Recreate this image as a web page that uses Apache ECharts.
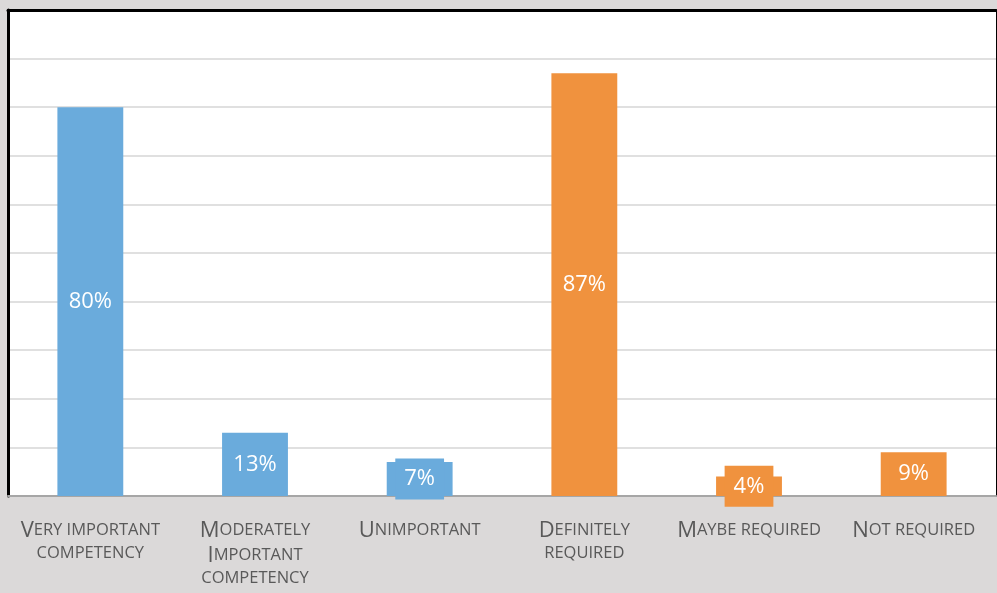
<!DOCTYPE html>
<html>
<head>
<meta charset="utf-8">
<script src="https://cdn.jsdelivr.net/npm/echarts@6/dist/echarts.min.js"></script>
<style>
  html, body { margin: 0; padding: 0; background: #dbd9d9; }
  #chart { width: 997px; height: 593px; }
</style>
</head>
<body>
<div id="chart"></div>
<script>
// Survey answers: competency importance (blue) and requirement (orange)
const categories = [
  'Very important\ncompetency',
  'Moderately\nImportant\ncompetency',
  'Unimportant',
  'Definitely\nrequired',
  'Maybe required',
  'Not required'
];
const values = [80, 13, 7, 87, 4, 9];
const barColors = ['#6aabdc', '#6aabdc', '#6aabdc', '#f0923e', '#f0923e', '#f0923e'];
const yTicks = { min: 0, max: 100, interval: 10 };

const FONT = '"Open Sans", "Noto Sans", sans-serif';

// Render a label in small caps: capitals large, lower-case letters as smaller capitals
function smallCaps(text) {
  return text.split('\n').map(line => {
    let out = '';
    let run = '';
    let runBig = null;
    const flush = () => {
      if (run) out += '{' + (runBig ? 'big' : 'sm') + '|' + run + '}';
      run = '';
    };
    for (const ch of line) {
      const isBig = ch !== ' ' && ch === ch.toUpperCase() && ch !== ch.toLowerCase();
      const big = ch === ' ' ? (runBig === null ? false : runBig) : isBig;
      if (runBig !== null && big !== runBig) flush();
      runBig = big;
      run += ch.toUpperCase();
    }
    flush();
    return out;
  }).join('\n');
}

const chart = echarts.init(document.getElementById('chart'));
chart.setOption({
  backgroundColor: '#dbd9d9',
  animation: false,
  grid: {
    left: 8, right: 1, top: 10, bottom: 97,
    show: true, backgroundColor: '#ffffff', borderWidth: 0
  },
  xAxis: [{
    type: 'category',
    data: categories,
    axisTick: { show: false },
    axisLine: { show: true, onZero: false, lineStyle: { color: '#a6a6a6', width: 2 } },
    axisLabel: {
      interval: 0,
      margin: 22,
      color: '#595959',
      fontFamily: FONT,
      formatter: v => smallCaps(v),
      rich: {
        big: { fontSize: 22, lineHeight: 25, color: '#595959', fontFamily: FONT },
        sm: { fontSize: 16.5, lineHeight: 21, color: '#595959', fontFamily: FONT }
      }
    }
  }, {
    type: 'category',
    position: 'top',
    data: categories,
    axisTick: { show: false },
    axisLabel: { show: false },
    axisLine: { show: true, onZero: false, lineStyle: { color: '#000000', width: 3 } }
  }],
  yAxis: [{
    type: 'value',
    min: yTicks.min, max: yTicks.max, interval: yTicks.interval,
    axisLabel: { show: false },
    axisTick: { show: false },
    axisLine: { show: true, onZero: false, lineStyle: { color: '#000000', width: 3 } },
    splitLine: { show: true, lineStyle: { color: '#e0e0e0', width: 2 } }
  }, {
    type: 'value',
    position: 'right',
    min: yTicks.min, max: yTicks.max, interval: yTicks.interval,
    axisLabel: { show: false },
    axisTick: { show: false },
    splitLine: { show: false },
    axisLine: { show: true, onZero: false, lineStyle: { color: '#000000', width: 1 } }
  }],
  series: [{
    type: 'bar',
    barWidth: '40%',
    z: 3,
    data: values.map((v, i) => ({
      value: v,
      itemStyle: { color: barColors[i] },
      label: { backgroundColor: barColors[i] }
    })),
    label: {
      show: true,
      position: 'inside',
      formatter: p => p.value + '%',
      color: '#ffffff',
      fontSize: 22,
      lineHeight: 25,
      fontFamily: FONT,
      padding: [11, 9, 5, 9]
    }
  }]
});
</script>
</body>
</html>
